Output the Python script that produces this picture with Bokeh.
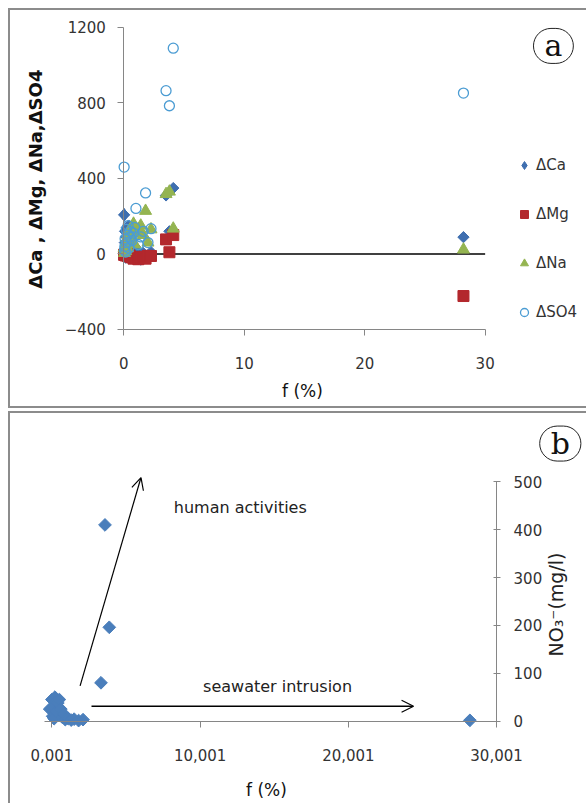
import math
from bokeh.plotting import figure
from bokeh.models import Range1d, FixedTicker, Label, Arrow, OpenHead
from bokeh.embed import file_html
from bokeh.resources import INLINE

# ---------------- Panel (a) data ----------------
f_a = [0.02, 0.05, 0.08, 0.10, 0.15, 0.20, 0.25, 0.30, 0.35, 0.40, 0.50, 0.55, 0.65,
       0.80, 0.90, 1.00, 1.20, 1.40, 1.60, 1.80, 2.00, 2.25, 3.50, 3.78, 4.10, 28.20]
d_ca = [207, 10, 60, 120, -20, 90, 140, 30, 100, 150, 50, 80, 130,
        -10, 40, 20, -25, -30, 5, -20, -15, 10, 310, 120, 349, 89]
d_mg = [-5, -3, 0, -2, -8, 2, -6, -10, -4, 0, -12, -15, -18,
        -25, -20, -22, -28, -20, -15, -25, -10, -11, 77, 9, 100, -223]
d_na = [30, 5, 20, 40, 15, 60, 80, 30, 100, 120, 70, 90, 140,
        160, 50, 110, 130, 150, 100, 228, 60, 130, 317, 330, 134, 23]
d_so4 = [460, 20, 40, 80, 10, 130, 60, 100, 150, 30, 90, 120, 70,
         110, 140, 241, 50, 90, 120, 323, 60, 134, 865, 785, 1090, 852]
x_ticks_a = [0, 10, 20, 30]
y_ticks_a = [-400, 0, 400, 800, 1200]
series_names = ["ΔCa", "ΔMg", "ΔNa", "ΔSO4"]

# ---------------- Panel (b) data ----------------
f_b = [-0.15, 0.0, 0.05, 0.1, 0.15, 0.2, 0.25, 0.3, 0.4, 0.5, 0.6, 0.7, 0.8, 0.9,
       1.1, 1.3, 1.5, 1.8, 2.1, 3.31, 3.58, 3.87, 28.2]
no3 = [25, 45, 10, 30, 5, 50, 40, 20, 38, 45, 25, 8, 15, 3,
       5, 2, 4, 1, 3, 80, 410, 196, 1.5]
x_ticks_b = [0.001, 10.001, 20.001, 30.001]
x_tick_labels_b = ["0,001", "10,001", "20,001", "30,001"]
y_ticks_b = [0, 100, 200, 300, 400, 500]

FONT = "DejaVu Sans"
AXIS_GRAY = "#868686"
TXT = "#333333"
BORDER = "2px solid #8c8c8c"

# ---------------- geometry (canvas pixels) ----------------
A_W, A_H = 576, 396
A_OX, A_OY = 113, 241            # canvas pixel of data origin (x=0, y=0)
A_SX, A_SY = 12.0, 299 / 1600    # px per data unit
B_W, B_H = 576, 390
B_REFX, B_REFX_PX = 10.001, 189  # canvas pixel of x=10.001
B_OY = 306                       # canvas pixel of y=0
B_SX, B_SY = 14.77, 238 / 500


def style_axis(ax, tick_out, tick_in, standoff):
    ax.axis_line_color = AXIS_GRAY
    ax.major_tick_line_color = AXIS_GRAY
    ax.minor_tick_line_color = None
    ax.major_tick_out = tick_out
    ax.major_tick_in = tick_in
    ax.major_label_standoff = standoff
    ax.major_label_text_font = FONT
    ax.major_label_text_font_size = "15px"
    ax.major_label_text_color = TXT


# ================= Panel (a) =================
pa = figure(width=A_W + 2, height=A_H + 4,
            x_range=Range1d(-A_OX / A_SX, (A_W - A_OX) / A_SX),
            y_range=Range1d(-(A_H - A_OY) / A_SY, A_OY / A_SY),
            output_backend="svg", toolbar_location=None,
            min_border_left=0, min_border_right=0, min_border_top=0, min_border_bottom=0)
pa.grid.visible = False
pa.outline_line_color = None
pa.background_fill_color = "white"
pa.margin = (8, 0, 0, 8)
pa.styles = {"box-sizing": "border-box", "border-left": BORDER,
             "border-top": BORDER, "border-bottom": BORDER}

style_axis(pa.xaxis[0], 6, 0, 22)
style_axis(pa.yaxis[0], 6, 0, 12)
pa.xaxis.ticker = FixedTicker(ticks=x_ticks_a)
pa.yaxis.ticker = FixedTicker(ticks=y_ticks_a)
pa.xaxis.bounds = (x_ticks_a[0], x_ticks_a[-1])
pa.yaxis.bounds = (y_ticks_a[0], y_ticks_a[-1])
pa.xaxis.fixed_location = y_ticks_a[0]
pa.yaxis.fixed_location = x_ticks_a[0]

# zero reference line across the x-axis extent
pa.line([x_ticks_a[0], x_ticks_a[-1]], [0, 0], line_color="black", line_width=1.5)

# legend proxy (diamond) hidden under the first ΔCa marker
pa.scatter(f_a[:1], d_ca[:1], marker="diamond", size=13,
           fill_color="#3f6fb0", line_color="#3f6fb0", legend_label=series_names[0])
pa.scatter(f_a, d_ca, marker="square", angle=math.pi / 4, size=8,
           fill_color="#3f6fb0", line_color="#3f6fb0")
pa.scatter(f_a, d_mg, marker="square", size=11,
           fill_color="#b3282d", line_color="#b3282d", legend_label=series_names[1])
pa.scatter(f_a, d_na, marker="triangle", size=12,
           fill_color="#94b451", line_color="#94b451", legend_label=series_names[2])
pa.scatter(f_a, d_so4, marker="circle", size=10, fill_color=None,
           line_color="#4b9cd3", line_width=1.3, legend_label=series_names[3])

lg = pa.legend[0]
lg.location = (504, 88)
lg.background_fill_alpha = 0
lg.border_line_color = None
lg.padding = 0
lg.margin = 0
lg.glyph_width = 20
lg.glyph_height = 20
lg.label_height = 20
lg.spacing = 29
lg.label_standoff = 2
lg.label_text_font = FONT
lg.label_text_font_size = "15px"
lg.label_text_color = TXT

pa.add_layout(Label(x=-7.33, y=396, text="ΔCa , ΔMg, ΔNa,ΔSO4", text_font=FONT,
                    text_font_size="18px", text_font_style="bold", text_align="center",
                    text_baseline="middle", angle=90, angle_units="deg", text_color="#111111"))
pa.add_layout(Label(x=14.83, y=-728, text="f (%)", text_font=FONT, text_font_size="17px",
                    text_align="center", text_baseline="middle", text_color="#111111"))
pa.add_layout(Label(x=35.67, y=1102, text="a", text_font="DejaVu Serif", text_font_size="30px",
                    text_align="center", text_baseline="middle", text_color="#111111",
                    border_line_color="#222222", border_line_width=1, border_radius=18,
                    padding=(11, 0)))

# ================= Panel (b) =================
bx0 = B_REFX - B_REFX_PX / B_SX
pb = figure(width=B_W + 2, height=B_H + 2,
            x_range=Range1d(bx0, bx0 + B_W / B_SX),
            y_range=Range1d(-(B_H - B_OY) / B_SY, B_OY / B_SY),
            output_backend="svg", toolbar_location=None, y_axis_location="right",
            min_border_left=0, min_border_right=0, min_border_top=0, min_border_bottom=0)
pb.grid.visible = False
pb.outline_line_color = None
pb.background_fill_color = "white"
pb.margin = (3, 0, 0, 8)
pb.styles = {"box-sizing": "border-box", "border-left": BORDER, "border-top": BORDER}

style_axis(pb.xaxis[0], 6, 0, 22)
style_axis(pb.yaxis[0], 4, 3, 13)
pb.xaxis.ticker = FixedTicker(ticks=x_ticks_b)
pb.xaxis.major_label_overrides = dict(zip(x_ticks_b, x_tick_labels_b))
pb.xaxis.bounds = (-0.5, x_ticks_b[-1])
pb.xaxis.fixed_location = y_ticks_b[0]
pb.yaxis.ticker = FixedTicker(ticks=y_ticks_b)
pb.yaxis.bounds = (y_ticks_b[0], y_ticks_b[-1])
pb.yaxis.fixed_location = x_ticks_b[-1]

pb.scatter(f_b, no3, marker="square", angle=math.pi / 4, size=9,
           fill_color="#4a7ebb", line_color="#4a7ebb")

pb.add_layout(Arrow(end=OpenHead(size=12, line_width=1.2, line_color="black"),
                    x_start=1.90, y_start=73.5, x_end=6.01, y_end=509,
                    line_width=1.2, line_color="black"))
pb.add_layout(Arrow(end=OpenHead(size=12, line_width=1.2, line_color="black"),
                    x_start=2.67, y_start=31, x_end=24.4, y_end=31,
                    line_width=1.5, line_color="black"))
pb.add_layout(Label(x=8.22, y=446, text="human activities", text_font=FONT,
                    text_font_size="16px", text_baseline="middle", text_color="#222222"))
pb.add_layout(Label(x=10.2, y=73, text="seawater intrusion", text_font=FONT,
                    text_font_size="16px", text_baseline="middle", text_color="#222222"))
pb.add_layout(Label(x=34.0, y=243.7, text="NO₃⁻(mg/l)", text_font=FONT,
                    text_font_size="19px", text_align="center", text_baseline="middle",
                    angle=90, angle_units="deg", text_color="#222222"))
pb.add_layout(Label(x=14.47, y=-145, text="f (%)", text_font=FONT, text_font_size="17px",
                    text_align="center", text_baseline="middle", text_color="#111111"))
pb.add_layout(Label(x=34.3, y=580, text="b", text_font="DejaVu Serif", text_font_size="30px",
                    text_align="center", text_baseline="middle", text_color="#111111",
                    border_line_color="#222222", border_line_width=1, border_radius=18,
                    padding=(11, 0)))

open("out.html", "w").write(file_html([pa, pb], INLINE))
